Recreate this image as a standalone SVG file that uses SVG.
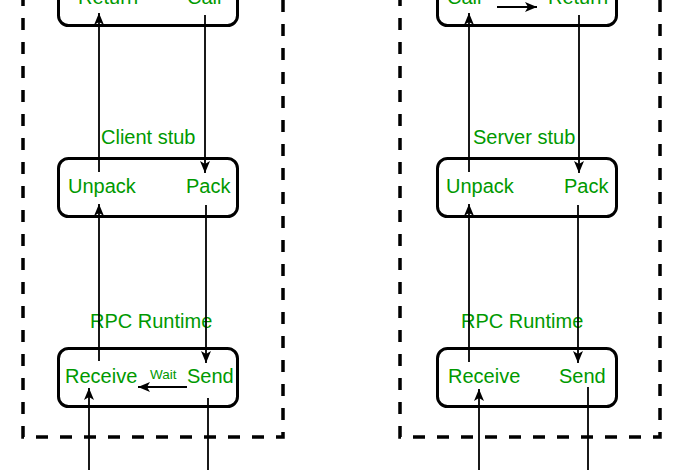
<svg xmlns="http://www.w3.org/2000/svg" width="687" height="470" viewBox="0 0 687 470">
<defs>
<style>
.lbl{font-family:"Liberation Sans",Arial,Helvetica,sans-serif;font-size:20px;fill:#009900;}
.small{font-size:13.5px;}
.box{fill:#ffffff;stroke:#000000;stroke-width:3;}
.frame{fill:none;stroke:#000000;stroke-width:3.5;stroke-dasharray:12 12;}
.edge{fill:none;stroke:#000000;stroke-width:1.8;marker-end:url(#arr);}
.plain{fill:none;stroke:#000000;stroke-width:1.8;}
</style>
<marker id="arr" markerUnits="userSpaceOnUse" markerWidth="14" markerHeight="12" refX="12" refY="5" orient="auto">
<path d="M0,0 L12,5 L0,10 L3,5 Z" fill="#000000"/>
</marker>
</defs>
<rect width="687" height="470" fill="#ffffff"/>
<g id="client-frame">
<path class="frame" d="M23,-30 L23,437 L283,437 L283,-30"/>
</g>
<g id="server-frame">
<path class="frame" d="M400,-30 L400,437 L660,437 L660,-30"/>
</g>
<g id="client-app">
<rect class="box" x="58.5" y="-40" width="179" height="65.5" rx="10"/>
<text class="lbl" x="78" y="4">Return</text>
<text class="lbl" x="187" y="4">Call</text>
</g>
<g id="client-stub">
<text class="lbl" x="101" y="144">Client stub</text>
<rect class="box" x="58.5" y="158.5" width="179" height="58" rx="10"/>
<text class="lbl" x="68" y="193">Unpack</text>
<text class="lbl" x="186" y="193">Pack</text>
</g>
<g id="client-runtime">
<text class="lbl" x="90" y="328">RPC Runtime</text>
<rect class="box" x="58.5" y="348.5" width="179" height="58" rx="10"/>
<text class="lbl" x="65" y="383">Receive</text>
<text class="lbl small" x="150" y="379">Wait</text>
<text class="lbl" x="187" y="383">Send</text>
</g>
<g id="server-app">
<rect class="box" x="437.5" y="-40" width="179" height="65.5" rx="10"/>
<text class="lbl" x="447" y="4">Call</text>
<text class="lbl" x="548" y="4">Return</text>
</g>
<g id="server-stub">
<text class="lbl" x="473" y="144">Server stub</text>
<rect class="box" x="437.5" y="158.5" width="179" height="58" rx="10"/>
<text class="lbl" x="446" y="193">Unpack</text>
<text class="lbl" x="564" y="193">Pack</text>
</g>
<g id="server-runtime">
<text class="lbl" x="461" y="328">RPC Runtime</text>
<rect class="box" x="437.5" y="348.5" width="179" height="58" rx="10"/>
<text class="lbl" x="448" y="383">Receive</text>
<text class="lbl" x="559" y="383">Send</text>
</g>
<g id="connectors">
<path class="edge" d="M99,172 L99,13"/>
<path class="edge" d="M205,15 L205,173"/>
<path class="edge" d="M99,361 L99,204"/>
<path class="edge" d="M206,205 L206,363"/>
<path class="edge" d="M89,480 L89,388"/>
<path class="plain" d="M208,398 L208,480"/>
<path class="edge" d="M187,387 L138,387"/>
<path class="edge" d="M469,172 L469,13"/>
<path class="edge" d="M579,15 L579,173"/>
<path class="edge" d="M469,362 L469,204"/>
<path class="edge" d="M578,205 L578,363"/>
<path class="edge" d="M479,480 L479,389"/>
<path class="plain" d="M588,387 L588,480"/>
<path class="edge" d="M497,7 L537,7"/>
</g>
</svg>
